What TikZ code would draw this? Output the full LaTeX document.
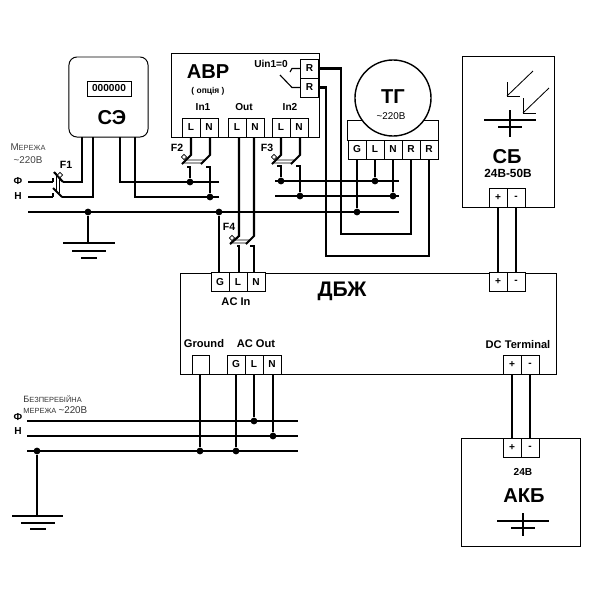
\documentclass[tikz,border=0pt]{standalone}
\usepackage{fontspec}
\setmainfont{Liberation Sans}
\usetikzlibrary{shapes.geometric}
\begin{document}
\begin{tikzpicture}[
        x=0.025cm,
        y=-0.025cm,
        line width=0.7pt,
        font=\bfseries\fontsize{7.2}{8}\selectfont
    ]
    \tikzset{
        mybox/.style = {rectangle, draw=black, fill=white, inner sep=0pt},
        myterm/.style = {mybox, minimum width=0.45cm, minimum height=0.475cm},
        mydot/.style = {circle, fill=black, inner sep=0pt, minimum size=0.17cm},
        mysw/.style = {diamond, draw=black, fill=white, inner sep=0pt, minimum size=0.14cm, line width=0.5pt},
        mytext/.style = {inner sep=0pt},
        mylab/.style = {inner sep=0pt, font=\bfseries\fontsize{7.9}{9}\selectfont},
        mytitle/.style = {inner sep=0pt, font=\bfseries\fontsize{14.3}{15}\selectfont},
        myplain/.style = {inner sep=0pt, font=\mdseries\fontsize{7}{8}\selectfont},
        edgew/.style = {-, line width=1.5pt},
        edges/.style = {-, line width=0.6pt},
    }
    \useasboundingbox (0,0) rectangle (600,600);
    % meter
    \node[mybox, rounded corners=0.2cm, minimum width=1.975cm, minimum height=2cm] at (108.5,97) (se) {};
    \node[mybox, minimum width=1.1cm, minimum height=0.375cm] at (109,88.5) (secnt) {000000};
    \node[mytitle] at (112,118) (setitle) {СЭ};
    % ATS unit
    \node[mybox, minimum width=3.675cm, minimum height=2.1cm] at (245.5,95) (avr) {};
    \node[mytitle] at (208,72) (avrtitle) {АВР};
    \node[mytext, font=\bfseries\fontsize{6}{7}\selectfont] at (208,91) (avropt) {( опція )};
    \node[mytext] at (203,107) (in1t) {In1};
    \node[mytext] at (244,107) (outt) {Out};
    \node[mytext] at (290,107) (in2t) {In2};
    \node[mytext] at (271,64) (uint) {Uin1=0};
    \node[myterm] at (191,127.5) (in1l) {L};
    \node[myterm] at (209,127.5) (in1n) {N};
    \node[myterm] at (237,127.5) (outl) {L};
    \node[myterm] at (255,127.5) (outn) {N};
    \node[myterm] at (281,127.5) (in2l) {L};
    \node[myterm] at (299,127.5) (in2n) {N};
    \node[myterm] at (309.5,68.5) (ra) {R};
    \node[myterm] at (309.5,87.5) (rb) {R};
    % generator
    \node[mybox, minimum width=2.25cm, minimum height=0.5cm] at (393,130) (tgb) {};
    \node[myterm] at (357,149.5) (tgg) {G};
    \node[myterm] at (375,149.5) (tgl) {L};
    \node[myterm] at (393,149.5) (tgn) {N};
    \node[myterm] at (411,149.5) (tgra) {R};
    \node[myterm] at (429,149.5) (tgrb) {R};
    \node[circle, draw=black, fill=white, inner sep=0pt, minimum size=1.9cm, line width=1pt] at (393,98) (tg) {};
    \node[mytitle] at (393,97) (tgtitle) {ТГ};
    \node[myplain] at (391,116) (tgv) {\textasciitilde220В};
    % solar panel
    \node[mybox, minimum width=2.275cm, minimum height=3.75cm] at (508.5,132) (sb) {};
    \node[myterm] at (498,197.5) (sbp) {+};
    \node[myterm] at (516,197.5) (sbm) {-};
    \node[mytitle] at (507,157) (sbtitle) {СБ};
    \node[mytext, font=\bfseries\fontsize{8.4}{9}\selectfont] at (508,173) (sbv) {24В-50В};
    % UPS
    \node[mybox, minimum width=9.375cm, minimum height=2.525cm] at (368.5,323.5) (ups) {};
    \node[mytitle, font=\bfseries\fontsize{15}{16}\selectfont] at (342,291) (upstitle) {ДБЖ};
    \node[myterm] at (220,282) (ing) {G};
    \node[myterm] at (238,282) (inl) {L};
    \node[myterm] at (256,282) (inn) {N};
    \node[myterm] at (498,282) (upsp) {+};
    \node[myterm] at (516,282) (upsm) {-};
    \node[mylab] at (236,302) (int) {AC In};
    \node[mylab] at (204,344) (gndt) {Ground};
    \node[mylab] at (256,344) (acout) {AC Out};
    \node[mylab] at (518,345) (dct) {DC Terminal};
    \node[mybox, minimum width=0.425cm, minimum height=0.475cm] at (200.5,364.5) (gndb) {};
    \node[myterm] at (236,364.5) (outg) {G};
    \node[myterm] at (254,364.5) (acl) {L};
    \node[myterm] at (272,364.5) (acn) {N};
    \node[myterm] at (512,364.5) (dcp) {+};
    \node[myterm] at (530,364.5) (dcm) {-};
    % battery
    \node[mybox, minimum width=2.95cm, minimum height=2.7cm] at (521,492) (akb) {};
    \node[myterm] at (512,447.5) (akbp) {+};
    \node[myterm] at (530,447.5) (akbm) {-};
    \node[mytext] at (523,472) (akbv) {24В};
    \node[mytitle] at (524,496) (akbtitle) {АКБ};
    % labels
    \node[mytext, font=\mdseries\fontsize{7}{8}\selectfont, text=black!75] at (28,147.5) (mtxt) {М{\fontsize{5.3}{8}\selectfont ЕРЕЖА}};
    \node[myplain, text=black!75] at (28,160) (mvolt) {\textasciitilde220В};
    \node[mytext, font=\bfseries\fontsize{7.5}{8}\selectfont] at (66,165) (f1t) {F1};
    \node[mytext, font=\bfseries\fontsize{7.5}{8}\selectfont] at (177,148) (f2t) {F2};
    \node[mytext, font=\bfseries\fontsize{7.5}{8}\selectfont] at (267,148) (f3t) {F3};
    \node[mytext, font=\bfseries\fontsize{7.5}{8}\selectfont] at (229,227) (f4t) {F4};
    \node[mytext] at (18,181) (pha) {Ф};
    \node[mytext] at (18,196) (nul) {Н};
    \node[mytext] at (18,417) (phb) {Ф};
    \node[mytext] at (18,431) (nub) {Н};
    \node[mytext, anchor=west, font=\mdseries\fontsize{6.5}{8}\selectfont, text=black!80] at (23,399) (btxt) {Б{\fontsize{5.3}{8}\selectfont ЕЗПЕРЕБІЙНА}};
    \node[myplain, anchor=west, text=black!80] at (23,410) (bvolt) {{\fontsize{5.3}{8}\selectfont МЕРЕЖА }\textasciitilde220В};
    % bus dots
    \node[mydot] at (88,212) (d1) {};
    \node[mydot] at (219,212) (d2) {};
    \node[mydot] at (357,212) (d3) {};
    \node[mydot] at (190,182) (d4) {};
    \node[mydot] at (210,197) (d5) {};
    \node[mydot] at (281,181) (d6) {};
    \node[mydot] at (300,196) (d7) {};
    \node[mydot] at (375,181) (d8) {};
    \node[mydot] at (393,196) (d9) {};
    \node[mydot] at (37,451) (d10) {};
    \node[mydot] at (200,451) (d11) {};
    \node[mydot] at (236,451) (d12) {};
    \node[mydot] at (254,421) (d13) {};
    \node[mydot] at (273,436) (d14) {};
    % free ends
    \coordinate (se1) at (82,137);
    \coordinate (se2) at (93,137);
    \coordinate (se3) at (120,137);
    \coordinate (se4) at (135,137);
    \coordinate (f1a) at (63,182);
    \coordinate (f1b) at (62,197);
    \coordinate (f1c) at (54,172);
    \coordinate (f1d) at (53,188);
    \coordinate (b1a) at (28,182);
    \coordinate (b1b) at (53,182);
    \coordinate (b2a) at (28,197);
    \coordinate (b2b) at (53,197);
    \coordinate (b3a) at (28,212);
    \coordinate (b3b) at (399,212);
    \coordinate (b4a) at (219,182);
    \coordinate (b5a) at (219,197);
    \coordinate (b6a) at (275,181);
    \coordinate (b6b) at (399,181);
    \coordinate (b7a) at (275,196);
    \coordinate (b7b) at (399,196);
    \coordinate (b8a) at (27,421);
    \coordinate (b8b) at (298,421);
    \coordinate (b9a) at (27,436);
    \coordinate (b9b) at (298,436);
    \coordinate (b10a) at (27,451);
    \coordinate (b10b) at (298,451);
    \coordinate (gr1) at (88,243);
    \coordinate (gr2) at (37,516);
    % main wires
    \draw[edgew] (b1a) -- (b1b);
    \draw[edgew] (b2a) -- (b2b);
    \draw[edgew] (b3a) -- (b3b);
    \draw[edgew] (b1b) -- +(0,-4);
    \draw[edgew] (b2b) -- +(0,-4);
    \draw[edgew] (f1a) -| (se1);
    \draw[edgew] (f1b) -| (se2);
    \draw[edgew] (b4a) -| (se3);
    \draw[edgew] (b5a) -| (se4);
    \draw[edgew] (b6a) -- (b6b);
    \draw[edgew] (b7a) -- (b7b);
    \draw[edgew] (d1) -- (gr1);
    \draw[edgew] (f1a) -- (f1c);
    \draw[edgew] (f1b) -- (f1d);
    % F1
    \draw[edges] (56,175) -- (56,192);
    \draw[edges] (59,178) -- (59,193);
    \node[mysw] at (60,175) (f1s) {};
    % F2
    \coordinate (f2a) at (191,155);
    \coordinate (f2b) at (182,164);
    \coordinate (f2c) at (210,155);
    \coordinate (f2d) at (201,164);
    \draw[edgew] (in1l.south) -- (f2a) -- (f2b);
    \draw[edgew] (in1n.south -| f2c) -- (f2c) -- (f2d);
    \draw[edges] (186,160) -- (205,160) -- (202,163) -- (183,163) -- cycle;
    \node[mysw] at (184,157) (f2s) {};
    \draw[edgew] (187,167) -| (d4);
    \draw[edgew] (206,167) -| (d5);
    % F3
    \coordinate (f3a) at (281,155);
    \coordinate (f3b) at (272,164);
    \coordinate (f3c) at (300,155);
    \coordinate (f3d) at (291,164);
    \draw[edgew] (in2l.south) -- (f3a) -- (f3b);
    \draw[edgew] (in2n.south -| f3c) -- (f3c) -- (f3d);
    \draw[edges] (276,160) -- (295,160) -- (292,163) -- (273,163) -- cycle;
    \node[mysw] at (274,157) (f3s) {};
    \draw[edgew] (277,166) -| (d6);
    \draw[edgew] (296,166) -| (d7);
    % F4
    \coordinate (f4a) at (239,236);
    \coordinate (f4b) at (230,244);
    \coordinate (f4c) at (254,236);
    \coordinate (f4d) at (246,244);
    \draw[edgew] (outl.south -| f4a) -- (f4a) -- (f4b);
    \draw[edgew] (outn.south -| f4c) -- (f4c) -- (f4d);
    \draw[edges] (234,240) -- (250,240) -- (247,243) -- (231,243) -- cycle;
    \node[mysw] at (232,238) (f4s) {};
    \draw[edgew] (237,246) -| (inl.north -| f4a);
    \draw[edgew] (250,246) -| (inn.north -| f4c);
    \draw[edgew] (d2) -- (ing.north -| d2);
    % generator wires
    \draw[edgew] (tgg.south) -- (d3);
    \draw[edgew] (tgl.south) -- (d8);
    \draw[edgew] (tgn.south) -- (d9);
    \draw[edgew] (ra.east) -| (341,234) -| (tgra.south);
    \draw[edgew] (rb.east) -| (326,256) -| (tgrb.south);
    % relay contact
    \draw[edges, line width=0.8pt] (ra.west) -- (292,68.5) -- (290,72);
    \draw[edges, line width=0.8pt] (rb.west) -- (292,87.5) -- (280,75);
    % output bus
    \draw[edgew] (b8a) -- (b8b);
    \draw[edgew] (b9a) -- (b9b);
    \draw[edgew] (b10a) -- (b10b);
    \draw[edgew] (gndb.south -| d11) -- (d11);
    \draw[edgew] (outg.south) -- (d12);
    \draw[edgew] (acl.south) -- (d13);
    \draw[edgew] (acn.south -| d14) -- (d14);
    \draw[edgew] (d10) -- (gr2);
    % dc wires
    \draw[edgew] (sbp.south) -- (upsp.north);
    \draw[edgew] (sbm.south) -- (upsm.north);
    \draw[edgew] (dcp.south) -- (akbp.north);
    \draw[edgew] (dcm.south) -- (akbm.north);
    % earth bars
    \draw[edgew] (63,243) -- (115,243);
    \draw[edgew] (72,251) -- (106,251);
    \draw[edgew] (81,258) -- (97,258);
    \draw[edgew] (12,516) -- (63,516);
    \draw[edgew] (21,523) -- (55,523);
    \draw[edgew] (30,529) -- (46,529);
    % cells
    \draw[edgew] (484,120) -- (536,120);
    \draw[edgew] (498,127) -- (522,127);
    \draw[edgew] (510,110) -- (510,137);
    \draw[edgew] (497,521) -- (549,521);
    \draw[edgew] (511,528) -- (535,528);
    \draw[edgew] (523,513) -- (523,536);
    % sun arrows
    \draw[edges] (533,71) -- (507,96);
    \draw[edges] (507,82) -- (507,96) -- (520,96);
    \draw[edges] (549,88) -- (523,113);
    \draw[edges] (523,98) -- (523,113) -- (536,113);
\end{tikzpicture}
\end{document}
